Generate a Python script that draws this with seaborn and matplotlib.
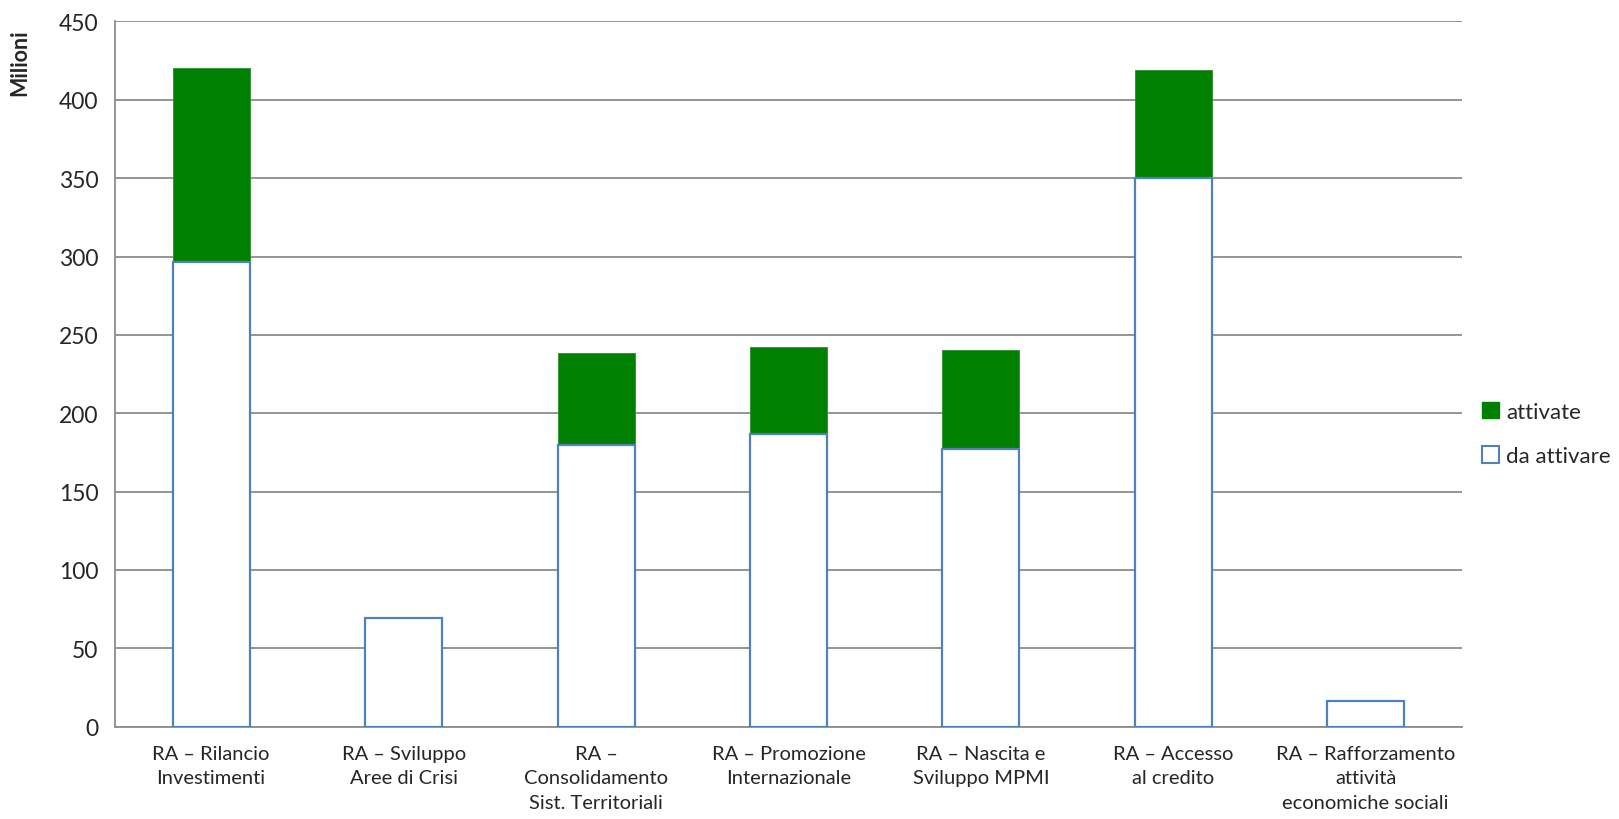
import matplotlib
matplotlib.use("Agg")
import matplotlib.pyplot as plt
from matplotlib.patches import Patch
import seaborn as sns
import pandas as pd

# categories and values (milioni)
categorie = [
    "RA \u2013 Rilancio\nInvestimenti",
    "RA \u2013 Sviluppo\nAree di Crisi",
    "RA \u2013\nConsolidamento\nSist. Territoriali",
    "RA \u2013 Promozione\nInternazionale",
    "RA \u2013 Nascita e\nSviluppo MPMI",
    "RA \u2013 Accesso\nal credito",
    "RA \u2013 Rafforzamento\nattivit\u00e0\neconomiche sociali",
]
da_attivare = [296.3, 69.6, 180.0, 187.0, 177.4, 350.2, 16.4]
attivate = [124.2, 0.0, 58.5, 55.4, 63.1, 69.0, 0.0]

df = pd.DataFrame({"categoria": categorie, "da attivare": da_attivare, "attivate": attivate})
df["totale"] = df["da attivare"] + df["attivate"]

sns.set_style("white")
plt.rcParams["font.family"] = ["Lato", "DejaVu Sans"]

verde = "#008000"
blu = "#4F81BD"
grigio = "#8C8C8C"

fig, ax = plt.subplots(figsize=(16.19, 8.2), dpi=100)
fig.subplots_adjust(left=0.071, right=0.903, top=0.9726, bottom=0.1126)

# green = total stacked height, white bar covers the "da attivare" part
sns.barplot(data=df, x="categoria", y="totale", color=verde, width=0.4,
            saturation=1, edgecolor="#2E8B2E", linewidth=0.6, ax=ax, zorder=2)
sns.barplot(data=df, x="categoria", y="da attivare", color="white", width=0.4,
            saturation=1, edgecolor=blu, linewidth=1.6, ax=ax, zorder=3)

ax.set_ylim(0, 450)
ax.set_yticks(range(0, 451, 50))
ax.set_xlim(-0.5, len(categorie) - 0.5)
ax.yaxis.grid(True, color=grigio, linewidth=1.3, zorder=0)
ax.set_axisbelow(True)

for s in ["top", "right"]:
    ax.spines[s].set_visible(False)
for s in ["left", "bottom"]:
    ax.spines[s].set_color(grigio)
    ax.spines[s].set_linewidth(1.3)

ax.tick_params(axis="y", length=7, width=1.3, color=grigio, labelsize=16.5, pad=5)
ax.tick_params(axis="x", length=0, labelsize=14.5, pad=13)
ax.set_xticks(range(len(categorie)))
ax.set_xticklabels(categorie, linespacing=1.55, ha="center")
ax.set_xlabel("")
ax.set_ylabel("Milioni", fontsize=15.5, fontweight="bold")
ax.yaxis.set_label_coords(-0.063, 0.943)

handles = [
    Patch(facecolor=verde, edgecolor=verde, label="attivate"),
    Patch(facecolor="white", edgecolor=blu, linewidth=1.5, label="da attivare"),
]
ax.legend(handles=handles, loc="center left", bbox_to_anchor=(1.0, 0.415),
          frameon=False, fontsize=16, handlelength=0.75, handleheight=0.75,
          handletextpad=0.35, labelspacing=1.1)

fig.savefig("out.png", dpi=100)
